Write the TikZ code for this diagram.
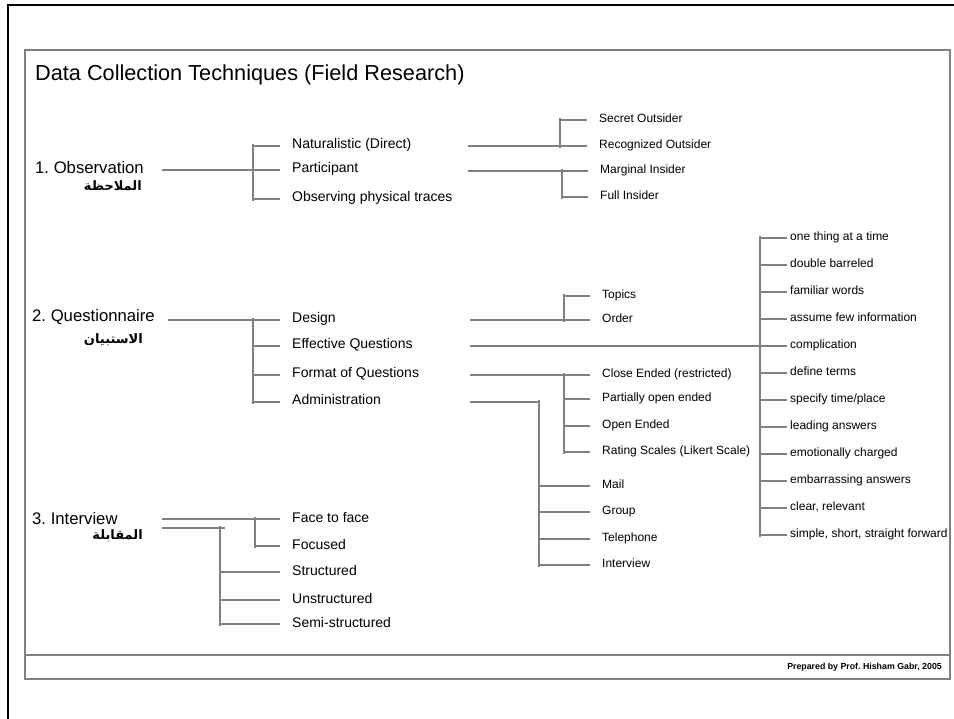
\documentclass[tikz,border=0pt]{standalone}
\usepackage{fontspec}
\setmainfont{Liberation Sans}
\newfontfamily\arabicfont[Script=Arabic, BoldFont={DejaVu Sans Bold}]{DejaVu Sans}
\TeXXeTstate=1
\frenchspacing
\usepackage{tikz}
\definecolor{linegray}{gray}{0.5}
\definecolor{framegray}{gray}{0.5}
\tikzstyle{head}=[anchor=base west, inner sep=0pt, font=\fontsize{16.7}{20}\selectfont]
\tikzstyle{arab}=[anchor=east, inner sep=0pt, font=\arabicfont\bfseries\fontsize{13}{15}\selectfont]
\tikzstyle{item}=[anchor=west, inner xsep=12pt, inner ysep=0pt, text height=10pt, text depth=4pt, font=\fontsize{14}{16}\selectfont]
\tikzstyle{leaf}=[anchor=west, inner xsep=12pt, inner ysep=0pt, text height=9pt, text depth=3.5pt, font=\fontsize{12}{14}\selectfont]
\tikzstyle{leafr}=[leaf, inner xsep=3pt]
\tikzstyle{branch}=[draw=linegray, line width=1.1pt]
\tikzstyle{spine}=[shorten <=-2pt, shorten >=-2pt]

\begin{document}
\begin{tikzpicture}[x=1pt, y=-1pt]
                    \useasboundingbox (0,0) rectangle (954,719);
                    % frame
                    \draw[line width=2.5pt] (8,719) -- (8,5) -- (954,5);
                    \draw[framegray, line width=1.5pt] (25,50) rectangle (950,679);
                    \draw[framegray, line width=1.5pt] (25,655) -- (950,655);
                    \node[anchor=base west, inner sep=0pt, font=\fontsize{21.7}{26}\selectfont] (title) at (35,81) {Data Collection Techniques (Field Research)};
                    \node[anchor=east, inner sep=0pt, font=\bfseries\fontsize{8.8}{10}\selectfont] (credit) at (942,667) {Prepared by Prof. Hisham Gabr, 2005};
                    % 1. observation
                    \node[head] (obs) at (35,174) {1. Observation};
                    \node[arab] (obsar) at (142,186) {\beginR الملاحظة\endR};
                    \coordinate (obsin) at (162,170);
                    \coordinate (obsbar) at (253,146);
                    \node[item] (nat) at (280,146) {Naturalistic (Direct)};
                    \node[item] (part) at (280,170) {Participant};
                    \node[item] (phys) at (280,199) {Observing physical traces};
                    \draw[branch] (obsin) -- (part.west);
                    \draw[branch, spine] (obsbar) -- (obsbar |- phys.west);
                    \draw[branch] (obsbar) -- (nat.west);
                    \draw[branch] (obsbar |- phys.west) -- (phys.west);
                    \coordinate (natin) at (468,146);
                    \coordinate (natbar) at (560,120);
                    \node[leaf] (so) at (587,120) {Secret Outsider};
                    \node[leaf] (ro) at (587,146) {Recognized Outsider};
                    \draw[branch] (natin) -- (ro.west);
                    \draw[branch, spine] (natbar) -- (natbar |- ro.west);
                    \draw[branch] (natbar) -- (so.west);
                    \coordinate (partin) at (468,171);
                    \coordinate (partbar) at (562,171);
                    \node[leaf] (mi) at (588,171) {Marginal Insider};
                    \node[leaf] (fi) at (588,197) {Full Insider};
                    \draw[branch] (partin) -- (mi.west);
                    \draw[branch, spine] (partbar) -- (partbar |- fi.west);
                    \draw[branch] (partbar |- fi.west) -- (fi.west);
                    % 2. questionnaire
                    \node[head] (quest) at (32,322) {2. Questionnaire};
                    \node[arab] (questar) at (143,340) {\beginR الاستبيان\endR};
                    \coordinate (questin) at (168,320);
                    \coordinate (questbar) at (253,320);
                    \node[item] (des) at (280,320) {Design};
                    \node[item] (eff) at (280,346) {Effective Questions};
                    \node[item] (form) at (280,375) {Format of Questions};
                    \node[item] (adm) at (280,402) {Administration};
                    \draw[branch] (questin) -- (des.west);
                    \draw[branch, spine] (questbar) -- (questbar |- adm.west);
                    \draw[branch] (questbar |- eff.west) -- (eff.west);
                    \draw[branch] (questbar |- form.west) -- (form.west);
                    \draw[branch] (questbar |- adm.west) -- (adm.west);
                    \coordinate (desin) at (470,320);
                    \coordinate (desbar) at (564,296);
                    \node[leaf] (top) at (590,296) {Topics};
                    \node[leaf] (ord) at (590,320) {Order};
                    \draw[branch] (desin) -- (ord.west);
                    \draw[branch, spine] (desbar) -- (desbar |- ord.west);
                    \draw[branch] (desbar) -- (top.west);
                    \coordinate (effin) at (470,346);
                    \coordinate (effbar) at (760,238);
                    \node[leafr] (e1) at (787,238) {one thing at a time};
                    \node[leafr] (e2) at (787,265) {double barreled};
                    \node[leafr] (e3) at (787,292) {familiar words};
                    \node[leafr] (e4) at (787,319) {assume few information};
                    \node[leafr] (e5) at (787,346) {complication};
                    \node[leafr] (e6) at (787,373) {define terms};
                    \node[leafr] (e7) at (787,400) {specify time/place};
                    \node[leafr] (e8) at (787,427) {leading answers};
                    \node[leafr] (e9) at (787,454) {emotionally charged};
                    \node[leafr] (e10) at (787,481) {embarrassing answers};
                    \node[leafr] (e11) at (787,508) {clear, relevant};
                    \node[leafr] (e12) at (787,535) {simple, short, straight forward};
                    \draw[branch] (effin) -- (e5.west);
                    \draw[branch, spine] (effbar) -- (effbar |- e12.west);
                    \draw[branch] (effbar) -- (e1.west);
                    \draw[branch] (effbar |- e2.west) -- (e2.west);
                    \draw[branch] (effbar |- e3.west) -- (e3.west);
                    \draw[branch] (effbar |- e4.west) -- (e4.west);
                    \draw[branch] (effbar |- e6.west) -- (e6.west);
                    \draw[branch] (effbar |- e7.west) -- (e7.west);
                    \draw[branch] (effbar |- e8.west) -- (e8.west);
                    \draw[branch] (effbar |- e9.west) -- (e9.west);
                    \draw[branch] (effbar |- e10.west) -- (e10.west);
                    \draw[branch] (effbar |- e11.west) -- (e11.west);
                    \draw[branch] (effbar |- e12.west) -- (e12.west);
                    \coordinate (formin) at (470,375);
                    \coordinate (formbar) at (564,375);
                    \node[leaf] (ce) at (590,375) {Close Ended (restricted)};
                    \node[leaf] (po) at (590,399) {Partially open ended};
                    \node[leaf] (oe) at (590,426) {Open Ended};
                    \node[leaf] (rs) at (590,452) {Rating Scales (Likert Scale)};
                    \draw[branch] (formin) -- (ce.west);
                    \draw[branch, spine] (formbar) -- (formbar |- rs.west);
                    \draw[branch] (formbar |- po.west) -- (po.west);
                    \draw[branch] (formbar |- oe.west) -- (oe.west);
                    \draw[branch] (formbar |- rs.west) -- (rs.west);
                    \coordinate (admin) at (470,402);
                    \coordinate (admbar) at (539,402);
                    \node[leaf] (mail) at (590,486) {Mail};
                    \node[leaf] (grp) at (590,512) {Group};
                    \node[leaf] (tel) at (590,539) {Telephone};
                    \node[leaf] (intv) at (590,565) {Interview};
                    \draw[branch] (admin) -- (admbar);
                    \draw[branch, spine] (admbar) -- (admbar |- intv.west);
                    \draw[branch] (admbar |- mail.west) -- (mail.west);
                    \draw[branch] (admbar |- grp.west) -- (grp.west);
                    \draw[branch] (admbar |- tel.west) -- (tel.west);
                    \draw[branch] (admbar |- intv.west) -- (intv.west);
                    % 3. interview
                    \node[head] (inter) at (32,524) {3. Interview};
                    \node[arab] (interar) at (143,536) {\beginR المقابلة\endR};
                    \coordinate (intin1) at (162,519);
                    \coordinate (intin2) at (162,528);
                    \coordinate (intbar1) at (255,519);
                    \coordinate (intbar2) at (220,528);
                    \node[item] (f2f) at (280,519) {Face to face};
                    \node[item] (foc) at (280,546) {Focused};
                    \node[item] (str) at (280,572) {Structured};
                    \node[item] (unst) at (280,600) {Unstructured};
                    \node[item] (semi) at (280,624) {Semi-structured};
                    \draw[branch] (intin1) -- (f2f.west);
                    \draw[branch, spine] (intbar1) -- (intbar1 |- foc.west);
                    \draw[branch] (intbar1 |- foc.west) -- (foc.west);
                    \draw[branch, shorten >=-5pt] (intin2) -- (intbar2);
                    \draw[branch, spine] (intbar2) -- (intbar2 |- semi.west);
                    \draw[branch] (intbar2 |- str.west) -- (str.west);
                    \draw[branch] (intbar2 |- unst.west) -- (unst.west);
                    \draw[branch] (intbar2 |- semi.west) -- (semi.west);
\end{tikzpicture}
\end{document}
